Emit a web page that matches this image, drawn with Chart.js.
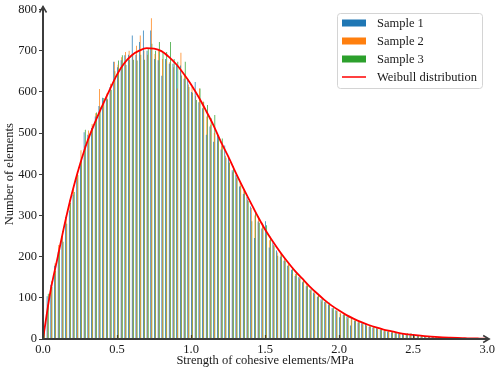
<!DOCTYPE html>
<html><head><meta charset="utf-8">
<script src="https://cdn.jsdelivr.net/npm/chart.js@4.4.1/dist/chart.umd.min.js"></script>
<style>html,body{margin:0;padding:0;background:#fff}#wrap{position:relative;width:498px;height:372px}</style>
</head><body><div id="wrap"><canvas id="c" width="498" height="372"></canvas></div>
<script>
// ---- data ----
const binWidth = 0.025;
const binLabels = Array.from({length: 120}, (_, i) => (i * binWidth + binWidth / 2).toFixed(4));

const sample1 = [48,104,132,178,212,250,296,312,350,391,428,502,496,512,540,566,586,590,612,673,
660,677,689,690,737,690,721,749,700,749,680,677,639,680,668,668,664,664,632,632,
600,624,575,560,496,516,479,495,460,470,441,410,399,370,352,345,322,245,285,268,
286,222,234,215,200,190,178,168,153,150,138,128,120,112,102,96,90,84,75,70,
53,58,54,33,44,40,38,37,30,28,26,22,19,18,16,14,13,12,10,9,
8,7,6,6,5,5,4,4,3,3,2,2,2,1,1,1,1,0,1,0];
const sample2 = [20,84,140,184,228,262,300,338,372,407,458,470,506,522,548,607,578,596,620,673,
666,684,697,700,690,712,737,700,690,779,692,700,680,676,672,660,608,695,640,618,
612,590,608,576,540,520,500,480,470,445,430,405,390,380,362,338,318,300,298,282,
252,240,228,210,208,196,185,158,158,146,140,135,118,116,104,91,88,82,72,69,
64,62,50,48,46,45,36,34,33,29,28,25,22,19,17,15,13,12,11,10,
9,8,7,6,6,4,4,3,3,2,3,2,2,2,1,1,1,1,0,0];
const sample3 = [28,110,126,165,218,236,280,330,357,398,436,508,490,518,550,564,585,582,605,650,
676,689,665,678,678,676,690,678,705,717,700,721,697,697,721,680,673,640,673,612,
598,580,608,576,568,536,544,490,487,440,428,419,396,372,363,335,286,310,282,278,
276,248,226,202,205,190,180,175,162,150,145,130,121,110,109,98,92,88,76,68,
62,60,55,52,45,42,40,33,31,30,25,23,21,20,18,16,14,11,14,14,
8,8,7,6,5,5,4,4,3,3,2,2,1,2,1,1,0,1,0,0];

const curveX = [0,0.05,0.1,0.15,0.2,0.25,0.3,0.35,0.4,0.45,0.5,0.55,0.6,0.65,0.7,0.75,0.8,0.85,0.9,0.95,
1.0,1.05,1.1,1.15,1.2,1.25,1.3,1.35,1.4,1.45,1.5,1.55,1.6,1.65,1.7,1.75,1.8,1.85,1.9,1.95,
2.0,2.05,2.1,2.15,2.2,2.25,2.3,2.35,2.4,2.45,2.5,2.55,2.6,2.65,2.7,2.75,2.8,2.85,2.9,2.95,3.0];
const curveY = [0,115,200,285,360,424,480,525,566,605,642,670,689,700,706,705,699,685,667,644,
618,588,555,520,480,444,405,368,333,298,266,238,212,188,166,147,128,111,95,81,
69,58,49,41,34,28,23,19,15,12,10,8,6.3,5,3.9,3.1,2.4,1.9,1.4,1.1,0.8];

const xTicks = [0,0.5,1.0,1.5,2.0,2.5,3.0];
const yTicks = [0,100,200,300,400,500,600,700,800];
const seriesNames = ['Sample 1','Sample 2','Sample 3','Weibull distribution'];
const xTitle = 'Strength of cohesive elements/MPa';
const yTitle = 'Number of elements';

// ---- style ----
const FONT = "'Liberation Serif','Times New Roman',serif";
const COLORS = ['#1f77b4','#ff7f0e','#2ca02c','#ff0000'];

const deco = {
  id: 'deco',
  afterDatasetsDraw(chart) {
    const {ctx, chartArea: a, scales} = chart;
    ctx.save();
    ctx.strokeStyle = '#3c3c3c';
    ctx.lineCap = 'butt';
    ctx.lineWidth = 1.2;
    scales.x2.ticks.forEach(t => {
      const px = Math.round(scales.x2.getPixelForValue(t.value)) + 0.5;
      if (t.value <= 0 || t.value >= 3) return;
      ctx.beginPath(); ctx.moveTo(px, a.bottom - 4); ctx.lineTo(px, a.bottom); ctx.stroke();
    });
    ctx.lineWidth = 2;
    ctx.beginPath(); ctx.moveTo(a.left, a.bottom + 1); ctx.lineTo(a.left, a.top - 3); ctx.stroke();
    ctx.beginPath(); ctx.moveTo(a.left - 1, a.bottom); ctx.lineTo(a.right + 2, a.bottom); ctx.stroke();
    ctx.lineWidth = 1.5;
    ctx.beginPath(); ctx.moveTo(a.left - 3.5, a.top + 3); ctx.lineTo(a.left, a.top - 3); ctx.lineTo(a.left + 3.5, a.top + 3); ctx.stroke();
    ctx.beginPath(); ctx.moveTo(a.right - 4, a.bottom - 3.5); ctx.lineTo(a.right + 2, a.bottom); ctx.lineTo(a.right - 4, a.bottom + 3.5); ctx.stroke();

    const bx = 337, by = 13, bw = 145, bh = 75;
    ctx.fillStyle = 'rgba(255,255,255,0.85)';
    ctx.strokeStyle = '#d4d4d4';
    ctx.lineWidth = 1;
    ctx.beginPath();
    ctx.roundRect(bx + 0.5, by + 0.5, bw, bh, 3);
    ctx.fill(); ctx.stroke();
    ctx.font = '12.5px ' + FONT;
    ctx.textBaseline = 'middle';
    chart.data.datasets.forEach(ds => {
      const cy = 23 + ds.legendIndex * 18;
      if (ds.type === 'line') {
        ctx.strokeStyle = ds.borderColor; ctx.lineWidth = 1.5;
        ctx.beginPath(); ctx.moveTo(342, cy); ctx.lineTo(366, cy); ctx.stroke();
      } else {
        ctx.fillStyle = ds.backgroundColor;
        ctx.fillRect(342, cy - 3.5, 24, 7);
      }
      ctx.fillStyle = '#1a1a1a';
      ctx.fillText(ds.label, 377, cy + 0.5);
    });
    ctx.restore();
  }
};

const barDs = (k, data) => ({
  label: seriesNames[k], data, backgroundColor: COLORS[k], xAxisID: 'x', yAxisID: 'y',
  categoryPercentage: 0.95, barPercentage: 1.25, order: 1, legendIndex: k
});

new Chart(document.getElementById('c'), {
  type: 'bar',
  data: {
    labels: binLabels,
    datasets: [
      barDs(0, sample1), barDs(1, sample2), barDs(2, sample3),
      { type: 'line', label: seriesNames[3], data: curveX.map((x, i) => ({x, y: curveY[i]})),
        xAxisID: 'x2', yAxisID: 'y', borderColor: COLORS[3], borderWidth: 1.8, pointRadius: 0,
        cubicInterpolationMode: 'monotone', fill: false, order: 0, legendIndex: 3 }
    ]
  },
  options: {
    responsive: false, animation: false,
    layout: {padding: {top: 7, right: 10, left: 0, bottom: 0}},
    plugins: {legend: {display: false}, tooltip: {enabled: false}},
    scales: {
      x: {display: false, offset: true},
      x2: {
        type: 'linear', position: 'bottom', min: 0, max: 3, offset: false,
        afterFit: s => { s.height = 33; },
        afterBuildTicks: s => { s.ticks = xTicks.map(v => ({value: v})); },
        ticks: {callback: v => Number(v).toFixed(1), font: {family: FONT, size: 12.5}, color: '#1a1a1a', padding: 3, maxRotation: 0, autoSkip: false},
        grid: {display: false, drawTicks: false, offset: false}, border: {display: false},
        title: {display: true, text: xTitle, font: {family: FONT, size: 12.5}, color: '#1a1a1a', padding: {top: 0, bottom: 4}}
      },
      y: {
        min: 0, max: 800,
        afterFit: s => { s.width = 43; },
        afterBuildTicks: s => { s.ticks = yTicks.map(v => ({value: v})); },
        ticks: {font: {family: FONT, size: 12.5}, color: '#1a1a1a', padding: 2},
        grid: {drawOnChartArea: false, drawTicks: true, tickLength: 4, color: '#3c3c3c'},
        border: {display: false},
        title: {display: true, text: yTitle, font: {family: FONT, size: 12.5}, color: '#1a1a1a', padding: {top: 2, bottom: 0}}
      }
    }
  },
  plugins: [deco]
});
</script></body></html>
